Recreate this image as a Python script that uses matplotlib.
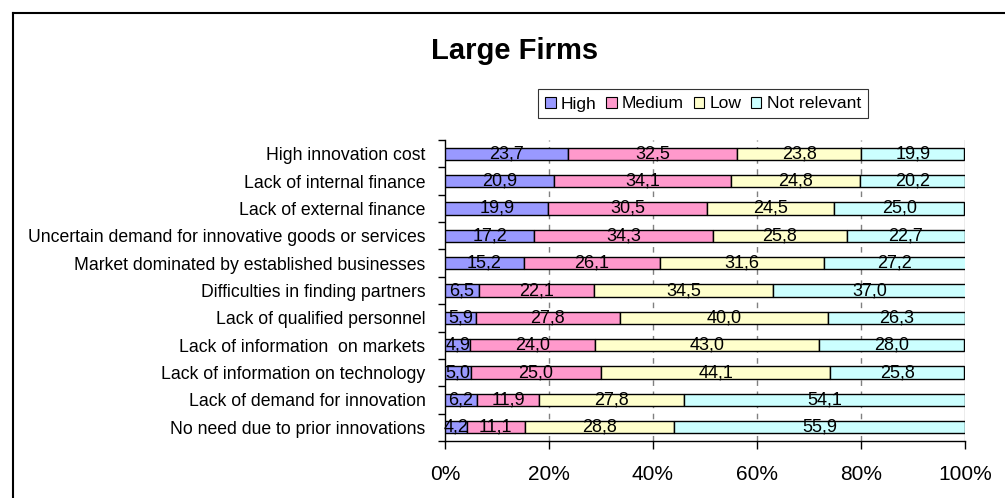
import matplotlib
matplotlib.use("Agg")
import matplotlib.pyplot as plt
from matplotlib.lines import Line2D
from matplotlib.patches import Patch
import numpy as np

plt.rcParams['font.family'] = ['Liberation Sans', 'DejaVu Sans']

categories = [
    "High innovation cost",
    "Lack of internal finance",
    "Lack of external finance",
    "Uncertain demand for innovative goods or services",
    "Market dominated by established businesses",
    "Difficulties in finding partners",
    "Lack of qualified personnel",
    "Lack of information  on markets",
    "Lack of information on technology",
    "Lack of demand for innovation",
    "No need due to prior innovations",
]
high = [23.7, 20.9, 19.9, 17.2, 15.2, 6.5, 5.9, 4.9, 5.0, 6.2, 4.2]
medium = [32.5, 34.1, 30.5, 34.3, 26.1, 22.1, 27.8, 24.0, 25.0, 11.9, 11.1]
low = [23.8, 24.8, 24.5, 25.8, 31.6, 34.5, 40.0, 43.0, 44.1, 27.8, 28.8]
not_relevant = [19.9, 20.2, 25.0, 22.7, 27.2, 37.0, 26.3, 28.0, 25.8, 54.1, 55.9]
series_names = ["High", "Medium", "Low", "Not relevant"]
colors = ["#9999FF", "#FF99CC", "#FFFFCC", "#CCFFFF"]
title = "Large Firms"

fig = plt.figure(figsize=(10.05, 4.98), dpi=100)
ax = fig.add_axes([445/1005, 1-441/498, 520/1005, 301/498])

y = np.arange(len(categories))
left = np.zeros(len(categories))
for vals, name, col in zip([high, medium, low, not_relevant], series_names, colors):
    vals = np.array(vals)
    bars = ax.barh(y, vals, left=left, height=0.45, color=col, edgecolor='black',
                   linewidth=1.0, label=name, zorder=3)
    for b, v, l in zip(bars, vals, left):
        t = ax.text(l + v/2, b.get_y() + b.get_height()/2, f"{v:.1f}".replace('.', ','),
                    ha='center', va='center', fontsize=13, color='black', zorder=4)
        if v < 4.5:
            t.set_clip_path(b)
    left = left + vals

ax.set_xlim(0, 100)
ax.set_ylim(len(categories) - 0.5, -0.5)
ax.set_xticks([0, 20, 40, 60, 80, 100])
ax.set_xticklabels(["0%", "20%", "40%", "60%", "80%", "100%"], fontsize=15)
ax.set_yticks(y)
ax.set_yticklabels(categories, fontsize=12.7)
ax.set_yticks(np.arange(-0.5, len(categories) + 0.5, 1), minor=True)
ax.tick_params(axis='y', which='major', length=0, pad=14)
ax.tick_params(axis='y', which='minor', length=5, direction='out', width=1)
ax.tick_params(axis='x', length=6, direction='out', width=1, pad=11)

for xv in [20, 40, 60, 80]:
    ax.axvline(xv, color='#808080', linestyle=(0, (4, 4)), linewidth=1, zorder=1)
ax.axvline(100, color='#A0A0A0', linewidth=1, zorder=1)

ax.spines['top'].set_visible(False)
ax.spines['right'].set_visible(False)
ax.spines['left'].set_linewidth(1)
ax.spines['bottom'].set_linewidth(1)

fig.text(515/1005, 1-59/498, title, ha='center', va='baseline', fontsize=21, fontweight='bold')

handles = [Patch(facecolor=c, edgecolor='black', linewidth=0.8) for c in colors]
leg = fig.legend(handles, series_names, loc='center', bbox_to_anchor=(703/1005, 1-104/498),
                 ncol=4, fontsize=12.6, frameon=True, fancybox=False, edgecolor='black',
                 handlelength=0.6, handleheight=0.6, handletextpad=0.3, columnspacing=0.55,
                 borderpad=0.4, borderaxespad=0)
leg.get_frame().set_linewidth(0.8)

fig.add_artist(Line2D([13/1005, 13/1005], [0, 1-13/498], transform=fig.transFigure, color='black', linewidth=1.5))
fig.add_artist(Line2D([13/1005, 1], [1-13/498, 1-13/498], transform=fig.transFigure, color='black', linewidth=1.5))

fig.savefig("out.png", dpi=100)
